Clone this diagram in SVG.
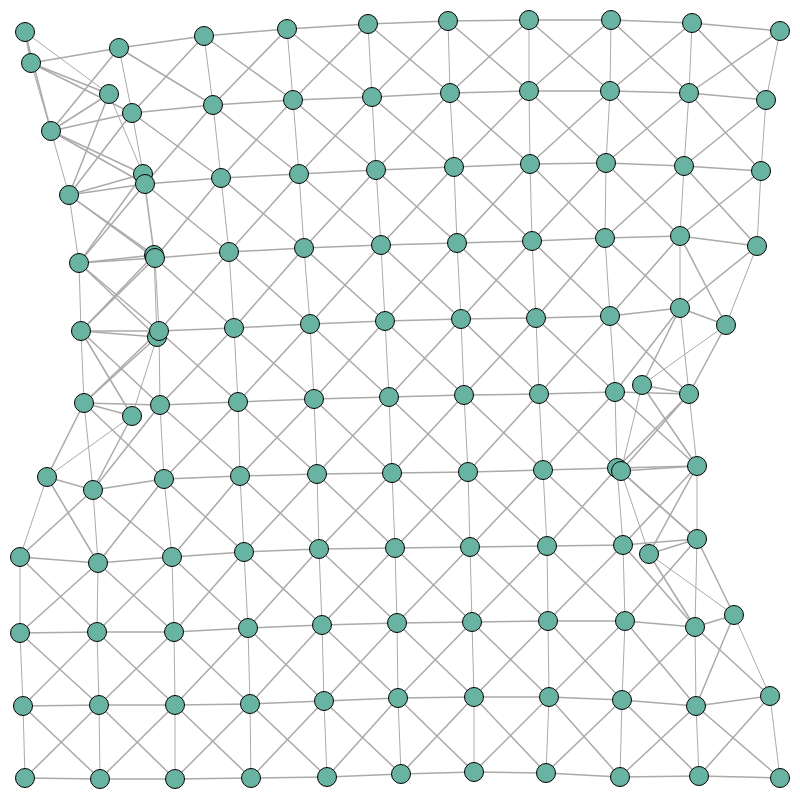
<svg xmlns="http://www.w3.org/2000/svg" width="800" height="800" viewBox="0 0 800 800">
<style>
.edges path{stroke:#aaa;stroke-width:1.5;fill:none}
.edges .v path{stroke-width:1}
.node circle{fill:#69b3a2;stroke:#000;stroke-width:1}
</style>
<rect width="800" height="800" fill="#fff"/>
<g class="edges" id="connectors">
<g class="h">
<path d="M25 32L31 63"/><path d="M31 63L119 48"/><path d="M119 48L204 36"/><path d="M204 36L287 29"/><path d="M287 29L368 24"/><path d="M368 24L448 21"/><path d="M448 21L529 20"/><path d="M529 20L611 20"/><path d="M611 20L692 23"/><path d="M692 23L780 31"/>
<path d="M109 94L51 131"/><path d="M51 131L132 113"/><path d="M132 113L213 105"/><path d="M213 105L293 100"/><path d="M293 100L372 97"/><path d="M372 97L450 93"/><path d="M450 93L529 91"/><path d="M529 91L610 91"/><path d="M610 91L689 93"/><path d="M689 93L766 100"/>
<path d="M143 174L69 195"/><path d="M69 195L145 184"/><path d="M145 184L221 178"/><path d="M221 178L299 174"/><path d="M299 174L376 170"/><path d="M376 170L454 167"/><path d="M454 167L530 164"/><path d="M530 164L606 163"/><path d="M606 163L684 166"/><path d="M684 166L761 171"/>
<path d="M154 255L79 263"/><path d="M79 263L155 258"/><path d="M155 258L229 252"/><path d="M229 252L304 248"/><path d="M304 248L381 245"/><path d="M381 245L457 243"/><path d="M457 243L532 241"/><path d="M532 241L605 238"/><path d="M605 238L680 236"/><path d="M680 236L757 246"/>
<path d="M157 337L81 331"/><path d="M81 331L159 331"/><path d="M159 331L234 328"/><path d="M234 328L310 324"/><path d="M310 324L385 321"/><path d="M385 321L461 319"/><path d="M461 319L536 318"/><path d="M536 318L610 316"/><path d="M610 316L680 308"/><path d="M680 308L726 325"/>
<path d="M132 416L84 403"/><path d="M84 403L160 405"/><path d="M160 405L238 402"/><path d="M238 402L314 399"/><path d="M314 399L389 397"/><path d="M389 397L464 395"/><path d="M464 395L539 394"/><path d="M539 394L615 392"/><path d="M615 392L689 394"/><path d="M689 394L642 385"/>
<path d="M47 477L93 490"/><path d="M93 490L164 479"/><path d="M164 479L240 476"/><path d="M240 476L317 474"/><path d="M317 474L392 473"/><path d="M392 473L468 472"/><path d="M468 472L543 470"/><path d="M543 470L617 468"/><path d="M617 468L697 466"/><path d="M697 466L621 471"/>
<path d="M20 557L98 563"/><path d="M98 563L172 557"/><path d="M172 557L244 552"/><path d="M244 552L319 549"/><path d="M319 549L395 548"/><path d="M395 548L470 547"/><path d="M470 547L547 546"/><path d="M547 546L623 545"/><path d="M623 545L697 539"/><path d="M697 539L649 554"/>
<path d="M20 633L97 632"/><path d="M97 632L174 632"/><path d="M174 632L248 628"/><path d="M248 628L322 625"/><path d="M322 625L397 623"/><path d="M397 623L472 622"/><path d="M472 622L548 621"/><path d="M548 621L625 621"/><path d="M625 621L695 627"/><path d="M695 627L734 615"/>
<path d="M23 706L99 705"/><path d="M99 705L175 705"/><path d="M175 705L250 704"/><path d="M250 704L324 701"/><path d="M324 701L398 698"/><path d="M398 698L474 697"/><path d="M474 697L549 697"/><path d="M549 697L622 700"/><path d="M622 700L696 706"/><path d="M696 706L770 696"/>
<path d="M25 778L100 779"/><path d="M100 779L175 779"/><path d="M175 779L251 778"/><path d="M251 778L327 777"/><path d="M327 777L401 774"/><path d="M401 774L474 772"/><path d="M474 772L546 773"/><path d="M546 773L620 777"/><path d="M620 777L699 776"/><path d="M699 776L780 778"/>
</g>
<g class="v">
<path d="M25 32L109 94"/><path d="M109 94L143 174"/><path d="M143 174L154 255"/><path d="M154 255L157 337"/><path d="M157 337L132 416"/><path d="M132 416L47 477"/><path d="M47 477L20 557"/><path d="M20 557L20 633"/><path d="M20 633L23 706"/><path d="M23 706L25 778"/>
<path d="M31 63L51 131"/><path d="M51 131L69 195"/><path d="M69 195L79 263"/><path d="M79 263L81 331"/><path d="M81 331L84 403"/><path d="M84 403L93 490"/><path d="M93 490L98 563"/><path d="M98 563L97 632"/><path d="M97 632L99 705"/><path d="M99 705L100 779"/>
<path d="M119 48L132 113"/><path d="M132 113L145 184"/><path d="M145 184L155 258"/><path d="M155 258L159 331"/><path d="M159 331L160 405"/><path d="M160 405L164 479"/><path d="M164 479L172 557"/><path d="M172 557L174 632"/><path d="M174 632L175 705"/><path d="M175 705L175 779"/>
<path d="M204 36L213 105"/><path d="M213 105L221 178"/><path d="M221 178L229 252"/><path d="M229 252L234 328"/><path d="M234 328L238 402"/><path d="M238 402L240 476"/><path d="M240 476L244 552"/><path d="M244 552L248 628"/><path d="M248 628L250 704"/><path d="M250 704L251 778"/>
<path d="M287 29L293 100"/><path d="M293 100L299 174"/><path d="M299 174L304 248"/><path d="M304 248L310 324"/><path d="M310 324L314 399"/><path d="M314 399L317 474"/><path d="M317 474L319 549"/><path d="M319 549L322 625"/><path d="M322 625L324 701"/><path d="M324 701L327 777"/>
<path d="M368 24L372 97"/><path d="M372 97L376 170"/><path d="M376 170L381 245"/><path d="M381 245L385 321"/><path d="M385 321L389 397"/><path d="M389 397L392 473"/><path d="M392 473L395 548"/><path d="M395 548L397 623"/><path d="M397 623L398 698"/><path d="M398 698L401 774"/>
<path d="M448 21L450 93"/><path d="M450 93L454 167"/><path d="M454 167L457 243"/><path d="M457 243L461 319"/><path d="M461 319L464 395"/><path d="M464 395L468 472"/><path d="M468 472L470 547"/><path d="M470 547L472 622"/><path d="M472 622L474 697"/><path d="M474 697L474 772"/>
<path d="M529 20L529 91"/><path d="M529 91L530 164"/><path d="M530 164L532 241"/><path d="M532 241L536 318"/><path d="M536 318L539 394"/><path d="M539 394L543 470"/><path d="M543 470L547 546"/><path d="M547 546L548 621"/><path d="M548 621L549 697"/><path d="M549 697L546 773"/>
<path d="M611 20L610 91"/><path d="M610 91L606 163"/><path d="M606 163L605 238"/><path d="M605 238L610 316"/><path d="M610 316L615 392"/><path d="M615 392L617 468"/><path d="M617 468L623 545"/><path d="M623 545L625 621"/><path d="M625 621L622 700"/><path d="M622 700L620 777"/>
<path d="M692 23L689 93"/><path d="M689 93L684 166"/><path d="M684 166L680 236"/><path d="M680 236L680 308"/><path d="M680 308L689 394"/><path d="M689 394L697 466"/><path d="M697 466L697 539"/><path d="M697 539L695 627"/><path d="M695 627L696 706"/><path d="M696 706L699 776"/>
<path d="M780 31L766 100"/><path d="M766 100L761 171"/><path d="M761 171L757 246"/><path d="M757 246L726 325"/><path d="M726 325L642 385"/><path d="M642 385L621 471"/><path d="M621 471L649 554"/><path d="M649 554L734 615"/><path d="M734 615L770 696"/><path d="M770 696L780 778"/>
</g>
<g class="d">
<path d="M25 32L51 131"/><path d="M31 63L132 113"/><path d="M119 48L213 105"/><path d="M204 36L293 100"/><path d="M287 29L372 97"/><path d="M368 24L450 93"/><path d="M448 21L529 91"/><path d="M529 20L610 91"/><path d="M611 20L689 93"/><path d="M692 23L766 100"/>
<path d="M109 94L69 195"/><path d="M51 131L145 184"/><path d="M132 113L221 178"/><path d="M213 105L299 174"/><path d="M293 100L376 170"/><path d="M372 97L454 167"/><path d="M450 93L530 164"/><path d="M529 91L606 163"/><path d="M610 91L684 166"/><path d="M689 93L761 171"/>
<path d="M143 174L79 263"/><path d="M69 195L155 258"/><path d="M145 184L229 252"/><path d="M221 178L304 248"/><path d="M299 174L381 245"/><path d="M376 170L457 243"/><path d="M454 167L532 241"/><path d="M530 164L605 238"/><path d="M606 163L680 236"/><path d="M684 166L757 246"/>
<path d="M154 255L81 331"/><path d="M79 263L159 331"/><path d="M155 258L234 328"/><path d="M229 252L310 324"/><path d="M304 248L385 321"/><path d="M381 245L461 319"/><path d="M457 243L536 318"/><path d="M532 241L610 316"/><path d="M605 238L680 308"/><path d="M680 236L726 325"/>
<path d="M157 337L84 403"/><path d="M81 331L160 405"/><path d="M159 331L238 402"/><path d="M234 328L314 399"/><path d="M310 324L389 397"/><path d="M385 321L464 395"/><path d="M461 319L539 394"/><path d="M536 318L615 392"/><path d="M610 316L689 394"/><path d="M680 308L642 385"/>
<path d="M132 416L93 490"/><path d="M84 403L164 479"/><path d="M160 405L240 476"/><path d="M238 402L317 474"/><path d="M314 399L392 473"/><path d="M389 397L468 472"/><path d="M464 395L543 470"/><path d="M539 394L617 468"/><path d="M615 392L697 466"/><path d="M689 394L621 471"/>
<path d="M47 477L98 563"/><path d="M93 490L172 557"/><path d="M164 479L244 552"/><path d="M240 476L319 549"/><path d="M317 474L395 548"/><path d="M392 473L470 547"/><path d="M468 472L547 546"/><path d="M543 470L623 545"/><path d="M617 468L697 539"/><path d="M697 466L649 554"/>
<path d="M20 557L97 632"/><path d="M98 563L174 632"/><path d="M172 557L248 628"/><path d="M244 552L322 625"/><path d="M319 549L397 623"/><path d="M395 548L472 622"/><path d="M470 547L548 621"/><path d="M547 546L625 621"/><path d="M623 545L695 627"/><path d="M697 539L734 615"/>
<path d="M20 633L99 705"/><path d="M97 632L175 705"/><path d="M174 632L250 704"/><path d="M248 628L324 701"/><path d="M322 625L398 698"/><path d="M397 623L474 697"/><path d="M472 622L549 697"/><path d="M548 621L622 700"/><path d="M625 621L696 706"/><path d="M695 627L770 696"/>
<path d="M23 706L100 779"/><path d="M99 705L175 779"/><path d="M175 705L251 778"/><path d="M250 704L327 777"/><path d="M324 701L401 774"/><path d="M398 698L474 772"/><path d="M474 697L546 773"/><path d="M549 697L620 777"/><path d="M622 700L699 776"/><path d="M696 706L780 778"/>
<path d="M31 63L109 94"/><path d="M119 48L51 131"/><path d="M204 36L132 113"/><path d="M287 29L213 105"/><path d="M368 24L293 100"/><path d="M448 21L372 97"/><path d="M529 20L450 93"/><path d="M611 20L529 91"/><path d="M692 23L610 91"/><path d="M780 31L689 93"/>
<path d="M51 131L143 174"/><path d="M132 113L69 195"/><path d="M213 105L145 184"/><path d="M293 100L221 178"/><path d="M372 97L299 174"/><path d="M450 93L376 170"/><path d="M529 91L454 167"/><path d="M610 91L530 164"/><path d="M689 93L606 163"/><path d="M766 100L684 166"/>
<path d="M69 195L154 255"/><path d="M145 184L79 263"/><path d="M221 178L155 258"/><path d="M299 174L229 252"/><path d="M376 170L304 248"/><path d="M454 167L381 245"/><path d="M530 164L457 243"/><path d="M606 163L532 241"/><path d="M684 166L605 238"/><path d="M761 171L680 236"/>
<path d="M79 263L157 337"/><path d="M155 258L81 331"/><path d="M229 252L159 331"/><path d="M304 248L234 328"/><path d="M381 245L310 324"/><path d="M457 243L385 321"/><path d="M532 241L461 319"/><path d="M605 238L536 318"/><path d="M680 236L610 316"/><path d="M757 246L680 308"/>
<path d="M81 331L132 416"/><path d="M159 331L84 403"/><path d="M234 328L160 405"/><path d="M310 324L238 402"/><path d="M385 321L314 399"/><path d="M461 319L389 397"/><path d="M536 318L464 395"/><path d="M610 316L539 394"/><path d="M680 308L615 392"/><path d="M726 325L689 394"/>
<path d="M84 403L47 477"/><path d="M160 405L93 490"/><path d="M238 402L164 479"/><path d="M314 399L240 476"/><path d="M389 397L317 474"/><path d="M464 395L392 473"/><path d="M539 394L468 472"/><path d="M615 392L543 470"/><path d="M689 394L617 468"/><path d="M642 385L697 466"/>
<path d="M93 490L20 557"/><path d="M164 479L98 563"/><path d="M240 476L172 557"/><path d="M317 474L244 552"/><path d="M392 473L319 549"/><path d="M468 472L395 548"/><path d="M543 470L470 547"/><path d="M617 468L547 546"/><path d="M697 466L623 545"/><path d="M621 471L697 539"/>
<path d="M98 563L20 633"/><path d="M172 557L97 632"/><path d="M244 552L174 632"/><path d="M319 549L248 628"/><path d="M395 548L322 625"/><path d="M470 547L397 623"/><path d="M547 546L472 622"/><path d="M623 545L548 621"/><path d="M697 539L625 621"/><path d="M649 554L695 627"/>
<path d="M97 632L23 706"/><path d="M174 632L99 705"/><path d="M248 628L175 705"/><path d="M322 625L250 704"/><path d="M397 623L324 701"/><path d="M472 622L398 698"/><path d="M548 621L474 697"/><path d="M625 621L549 697"/><path d="M695 627L622 700"/><path d="M734 615L696 706"/>
<path d="M99 705L25 778"/><path d="M175 705L100 779"/><path d="M250 704L175 779"/><path d="M324 701L251 778"/><path d="M398 698L327 777"/><path d="M474 697L401 774"/><path d="M549 697L474 772"/><path d="M622 700L546 773"/><path d="M696 706L620 777"/><path d="M770 696L699 776"/>
</g>
</g>
<g id="nodes">
<g class="node" id="n0-0"><circle cx="25" cy="32" r="9.5"/></g>
<g class="node" id="n0-1"><circle cx="31" cy="63" r="9.5"/></g>
<g class="node" id="n0-2"><circle cx="119" cy="48" r="9.5"/></g>
<g class="node" id="n0-3"><circle cx="204" cy="36" r="9.5"/></g>
<g class="node" id="n0-4"><circle cx="287" cy="29" r="9.5"/></g>
<g class="node" id="n0-5"><circle cx="368" cy="24" r="9.5"/></g>
<g class="node" id="n0-6"><circle cx="448" cy="21" r="9.5"/></g>
<g class="node" id="n0-7"><circle cx="529" cy="20" r="9.5"/></g>
<g class="node" id="n0-8"><circle cx="611" cy="20" r="9.5"/></g>
<g class="node" id="n0-9"><circle cx="692" cy="23" r="9.5"/></g>
<g class="node" id="n0-10"><circle cx="780" cy="31" r="9.5"/></g>
<g class="node" id="n1-0"><circle cx="109" cy="94" r="9.5"/></g>
<g class="node" id="n1-1"><circle cx="51" cy="131" r="9.5"/></g>
<g class="node" id="n1-2"><circle cx="132" cy="113" r="9.5"/></g>
<g class="node" id="n1-3"><circle cx="213" cy="105" r="9.5"/></g>
<g class="node" id="n1-4"><circle cx="293" cy="100" r="9.5"/></g>
<g class="node" id="n1-5"><circle cx="372" cy="97" r="9.5"/></g>
<g class="node" id="n1-6"><circle cx="450" cy="93" r="9.5"/></g>
<g class="node" id="n1-7"><circle cx="529" cy="91" r="9.5"/></g>
<g class="node" id="n1-8"><circle cx="610" cy="91" r="9.5"/></g>
<g class="node" id="n1-9"><circle cx="689" cy="93" r="9.5"/></g>
<g class="node" id="n1-10"><circle cx="766" cy="100" r="9.5"/></g>
<g class="node" id="n2-0"><circle cx="143" cy="174" r="9.5"/></g>
<g class="node" id="n2-1"><circle cx="69" cy="195" r="9.5"/></g>
<g class="node" id="n2-2"><circle cx="145" cy="184" r="9.5"/></g>
<g class="node" id="n2-3"><circle cx="221" cy="178" r="9.5"/></g>
<g class="node" id="n2-4"><circle cx="299" cy="174" r="9.5"/></g>
<g class="node" id="n2-5"><circle cx="376" cy="170" r="9.5"/></g>
<g class="node" id="n2-6"><circle cx="454" cy="167" r="9.5"/></g>
<g class="node" id="n2-7"><circle cx="530" cy="164" r="9.5"/></g>
<g class="node" id="n2-8"><circle cx="606" cy="163" r="9.5"/></g>
<g class="node" id="n2-9"><circle cx="684" cy="166" r="9.5"/></g>
<g class="node" id="n2-10"><circle cx="761" cy="171" r="9.5"/></g>
<g class="node" id="n3-0"><circle cx="154" cy="255" r="9.5"/></g>
<g class="node" id="n3-1"><circle cx="79" cy="263" r="9.5"/></g>
<g class="node" id="n3-2"><circle cx="155" cy="258" r="9.5"/></g>
<g class="node" id="n3-3"><circle cx="229" cy="252" r="9.5"/></g>
<g class="node" id="n3-4"><circle cx="304" cy="248" r="9.5"/></g>
<g class="node" id="n3-5"><circle cx="381" cy="245" r="9.5"/></g>
<g class="node" id="n3-6"><circle cx="457" cy="243" r="9.5"/></g>
<g class="node" id="n3-7"><circle cx="532" cy="241" r="9.5"/></g>
<g class="node" id="n3-8"><circle cx="605" cy="238" r="9.5"/></g>
<g class="node" id="n3-9"><circle cx="680" cy="236" r="9.5"/></g>
<g class="node" id="n3-10"><circle cx="757" cy="246" r="9.5"/></g>
<g class="node" id="n4-0"><circle cx="157" cy="337" r="9.5"/></g>
<g class="node" id="n4-1"><circle cx="81" cy="331" r="9.5"/></g>
<g class="node" id="n4-2"><circle cx="159" cy="331" r="9.5"/></g>
<g class="node" id="n4-3"><circle cx="234" cy="328" r="9.5"/></g>
<g class="node" id="n4-4"><circle cx="310" cy="324" r="9.5"/></g>
<g class="node" id="n4-5"><circle cx="385" cy="321" r="9.5"/></g>
<g class="node" id="n4-6"><circle cx="461" cy="319" r="9.5"/></g>
<g class="node" id="n4-7"><circle cx="536" cy="318" r="9.5"/></g>
<g class="node" id="n4-8"><circle cx="610" cy="316" r="9.5"/></g>
<g class="node" id="n4-9"><circle cx="680" cy="308" r="9.5"/></g>
<g class="node" id="n4-10"><circle cx="726" cy="325" r="9.5"/></g>
<g class="node" id="n5-0"><circle cx="132" cy="416" r="9.5"/></g>
<g class="node" id="n5-1"><circle cx="84" cy="403" r="9.5"/></g>
<g class="node" id="n5-2"><circle cx="160" cy="405" r="9.5"/></g>
<g class="node" id="n5-3"><circle cx="238" cy="402" r="9.5"/></g>
<g class="node" id="n5-4"><circle cx="314" cy="399" r="9.5"/></g>
<g class="node" id="n5-5"><circle cx="389" cy="397" r="9.5"/></g>
<g class="node" id="n5-6"><circle cx="464" cy="395" r="9.5"/></g>
<g class="node" id="n5-7"><circle cx="539" cy="394" r="9.5"/></g>
<g class="node" id="n5-8"><circle cx="615" cy="392" r="9.5"/></g>
<g class="node" id="n5-9"><circle cx="689" cy="394" r="9.5"/></g>
<g class="node" id="n5-10"><circle cx="642" cy="385" r="9.5"/></g>
<g class="node" id="n6-0"><circle cx="47" cy="477" r="9.5"/></g>
<g class="node" id="n6-1"><circle cx="93" cy="490" r="9.5"/></g>
<g class="node" id="n6-2"><circle cx="164" cy="479" r="9.5"/></g>
<g class="node" id="n6-3"><circle cx="240" cy="476" r="9.5"/></g>
<g class="node" id="n6-4"><circle cx="317" cy="474" r="9.5"/></g>
<g class="node" id="n6-5"><circle cx="392" cy="473" r="9.5"/></g>
<g class="node" id="n6-6"><circle cx="468" cy="472" r="9.5"/></g>
<g class="node" id="n6-7"><circle cx="543" cy="470" r="9.5"/></g>
<g class="node" id="n6-8"><circle cx="617" cy="468" r="9.5"/></g>
<g class="node" id="n6-9"><circle cx="697" cy="466" r="9.5"/></g>
<g class="node" id="n6-10"><circle cx="621" cy="471" r="9.5"/></g>
<g class="node" id="n7-0"><circle cx="20" cy="557" r="9.5"/></g>
<g class="node" id="n7-1"><circle cx="98" cy="563" r="9.5"/></g>
<g class="node" id="n7-2"><circle cx="172" cy="557" r="9.5"/></g>
<g class="node" id="n7-3"><circle cx="244" cy="552" r="9.5"/></g>
<g class="node" id="n7-4"><circle cx="319" cy="549" r="9.5"/></g>
<g class="node" id="n7-5"><circle cx="395" cy="548" r="9.5"/></g>
<g class="node" id="n7-6"><circle cx="470" cy="547" r="9.5"/></g>
<g class="node" id="n7-7"><circle cx="547" cy="546" r="9.5"/></g>
<g class="node" id="n7-8"><circle cx="623" cy="545" r="9.5"/></g>
<g class="node" id="n7-9"><circle cx="697" cy="539" r="9.5"/></g>
<g class="node" id="n7-10"><circle cx="649" cy="554" r="9.5"/></g>
<g class="node" id="n8-0"><circle cx="20" cy="633" r="9.5"/></g>
<g class="node" id="n8-1"><circle cx="97" cy="632" r="9.5"/></g>
<g class="node" id="n8-2"><circle cx="174" cy="632" r="9.5"/></g>
<g class="node" id="n8-3"><circle cx="248" cy="628" r="9.5"/></g>
<g class="node" id="n8-4"><circle cx="322" cy="625" r="9.5"/></g>
<g class="node" id="n8-5"><circle cx="397" cy="623" r="9.5"/></g>
<g class="node" id="n8-6"><circle cx="472" cy="622" r="9.5"/></g>
<g class="node" id="n8-7"><circle cx="548" cy="621" r="9.5"/></g>
<g class="node" id="n8-8"><circle cx="625" cy="621" r="9.5"/></g>
<g class="node" id="n8-9"><circle cx="695" cy="627" r="9.5"/></g>
<g class="node" id="n8-10"><circle cx="734" cy="615" r="9.5"/></g>
<g class="node" id="n9-0"><circle cx="23" cy="706" r="9.5"/></g>
<g class="node" id="n9-1"><circle cx="99" cy="705" r="9.5"/></g>
<g class="node" id="n9-2"><circle cx="175" cy="705" r="9.5"/></g>
<g class="node" id="n9-3"><circle cx="250" cy="704" r="9.5"/></g>
<g class="node" id="n9-4"><circle cx="324" cy="701" r="9.5"/></g>
<g class="node" id="n9-5"><circle cx="398" cy="698" r="9.5"/></g>
<g class="node" id="n9-6"><circle cx="474" cy="697" r="9.5"/></g>
<g class="node" id="n9-7"><circle cx="549" cy="697" r="9.5"/></g>
<g class="node" id="n9-8"><circle cx="622" cy="700" r="9.5"/></g>
<g class="node" id="n9-9"><circle cx="696" cy="706" r="9.5"/></g>
<g class="node" id="n9-10"><circle cx="770" cy="696" r="9.5"/></g>
<g class="node" id="n10-0"><circle cx="25" cy="778" r="9.5"/></g>
<g class="node" id="n10-1"><circle cx="100" cy="779" r="9.5"/></g>
<g class="node" id="n10-2"><circle cx="175" cy="779" r="9.5"/></g>
<g class="node" id="n10-3"><circle cx="251" cy="778" r="9.5"/></g>
<g class="node" id="n10-4"><circle cx="327" cy="777" r="9.5"/></g>
<g class="node" id="n10-5"><circle cx="401" cy="774" r="9.5"/></g>
<g class="node" id="n10-6"><circle cx="474" cy="772" r="9.5"/></g>
<g class="node" id="n10-7"><circle cx="546" cy="773" r="9.5"/></g>
<g class="node" id="n10-8"><circle cx="620" cy="777" r="9.5"/></g>
<g class="node" id="n10-9"><circle cx="699" cy="776" r="9.5"/></g>
<g class="node" id="n10-10"><circle cx="780" cy="778" r="9.5"/></g>
</g>
</svg>
